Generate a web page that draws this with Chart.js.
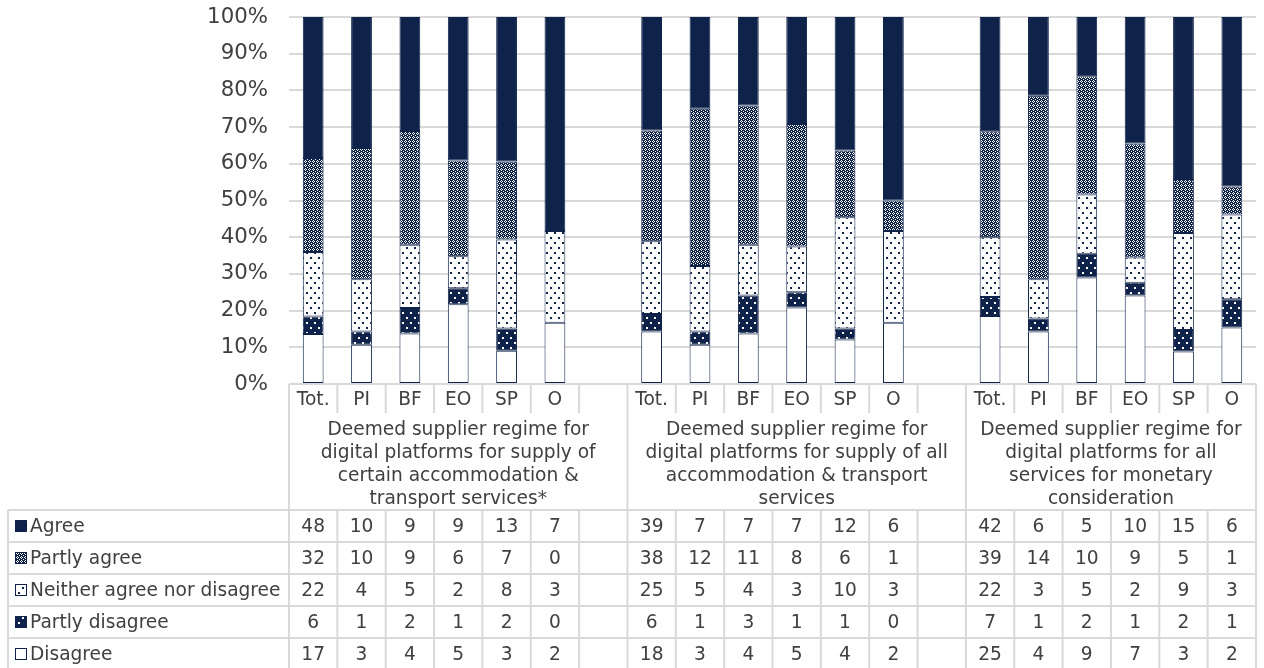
<!DOCTYPE html>
<html>
<head>
<meta charset="utf-8">
<script src="https://cdn.jsdelivr.net/npm/chart.js@4.4.0/dist/chart.umd.min.js"></script>
<style>
  body { margin: 0; background: #fff; }
  #wrap { width: 1264px; height: 668px; }
</style>
</head>
<body>
<div id="wrap"><canvas id="chart" width="1264" height="668"></canvas></div>
<script>
// --- Data (counts of replies) ---
const respondents = ['Tot.', 'PI', 'BF', 'EO', 'SP', 'O'];

const groupTitles = [
	['Deemed supplier regime for', 'digital platforms for supply of', 'certain accommodation &', 'transport services*'],
	['Deemed supplier regime for', 'digital platforms for supply of all', 'accommodation & transport', 'services'],
	['Deemed supplier regime for', 'digital platforms for all', 'services for monetary', 'consideration']
];

const agree          = [48, 10, 9, 9, 13, 7,   39, 7, 7, 7, 12, 6,   42, 6, 5, 10, 15, 6];
const partlyAgree    = [32, 10, 9, 6, 7, 0,    38, 12, 11, 8, 6, 1,  39, 14, 10, 9, 5, 1];
const neither        = [22, 4, 5, 2, 8, 3,     25, 5, 4, 3, 10, 3,   22, 3, 5, 2, 9, 3];
const partlyDisagree = [6, 1, 2, 1, 2, 0,      6, 1, 3, 1, 1, 0,     7, 1, 2, 1, 2, 1];
const disagree       = [17, 3, 4, 5, 3, 2,     18, 3, 4, 5, 4, 2,    25, 4, 9, 7, 3, 2];

const NAVY = '#0f2249';
const GRID = '#d9d9d9';
const TEXT = '#404040';
const FONT = '"DejaVu Sans", Verdana, sans-serif';

// --- Patterns ---
function makePattern(kind) {
	const c = document.createElement('canvas');
	const g = c.getContext('2d');
	if (kind === 'diamond') {
		// navy with a white diamond lattice
		c.width = 4; c.height = 4;
		g.fillStyle = NAVY; g.fillRect(0, 0, 4, 4);
		g.fillStyle = '#fff';
		[[1, 0], [0, 1], [2, 1], [1, 2], [3, 3]].forEach(p => g.fillRect(p[0], p[1], 1, 1));
	} else {
		c.width = 8; c.height = 10;
		const bg = kind === 'dotsLight' ? '#fff' : NAVY;
		const fg = kind === 'dotsLight' ? NAVY : '#fff';
		g.fillStyle = bg; g.fillRect(0, 0, 8, 10);
		g.fillStyle = fg;
		g.fillRect(2, 2, 2, 2);
		g.fillRect(6, 7, 2, 2);
	}
	return g.createPattern(c, 'repeat');
}

// Build the 20 columns: 6 per group plus an empty gap after groups 1 and 2
const columnLabels = [];
const columnIndex = []; // index into the count arrays, or -1 for gaps
for (let g = 0; g < 3; g++) {
	respondents.forEach((r, i) => { columnLabels.push(r); columnIndex.push(g * 6 + i); });
	if (g < 2) { columnLabels.push(''); columnIndex.push(-1); }
}

const totals = agree.map((v, i) => v + partlyAgree[i] + neither[i] + partlyDisagree[i] + disagree[i]);
const toPct = arr => columnIndex.map(k => k < 0 ? null : arr[k] / totals[k] * 100);

// Bottom to top
const series = [
	{ label: 'Disagree', counts: disagree, fill: '#ffffff' },
	{ label: 'Partly disagree', counts: partlyDisagree, fill: makePattern('dotsDark') },
	{ label: 'Neither agree nor disagree', counts: neither, fill: makePattern('dotsLight') },
	{ label: 'Partly agree', counts: partlyAgree, fill: makePattern('diamond') },
	{ label: 'Agree', counts: agree, fill: NAVY }
];

// --- Data table drawn under the plot ---
const tablePlugin = {
	id: 'dataTable',
	afterDraw(chart) {
		const ctx = chart.ctx;
		const xs = chart.scales.x;
		const n = columnLabels.length;
		const colW = (xs.right - xs.left) / n;
		const edge = i => xs.left + i * colW;
		const left = 8, right = xs.right, top = chart.chartArea.bottom;
		const rowTop = 510, rowH = 32;
		const rows = series.slice().reverse();

		ctx.save();
		ctx.strokeStyle = GRID;
		ctx.lineWidth = 2;
		const line = (x1, y1, x2, y2) => { ctx.beginPath(); ctx.moveTo(x1, y1); ctx.lineTo(x2, y2); ctx.stroke(); };

		// horizontal lines
		line(xs.left, top, right, top);
		for (let r = 0; r < rows.length; r++) line(left, rowTop + r * rowH, right, rowTop + r * rowH);
		// vertical lines
		line(left, rowTop, left, 668);
		line(xs.left, top, xs.left, 668);
		for (let i = 1; i <= n; i++) {
			const x = edge(i);
			const groupEdge = i === 7 || i === 14 || i === n;
			if (groupEdge) line(x, top, x, 668);
			else {
				line(x, top, x, top + 29);
				line(x, rowTop, x, 668);
			}
		}

		ctx.fillStyle = TEXT;
		ctx.font = '18.6px ' + FONT;
		ctx.textAlign = 'center';
		ctx.textBaseline = 'middle';

		// category labels
		columnLabels.forEach((lab, i) => ctx.fillText(lab, edge(i) + colW / 2, top + 16));

		// group titles
		const spans = [[0, 7], [7, 14], [14, 20]];
		groupTitles.forEach((lines, g) => {
			const cx = (edge(spans[g][0]) + edge(spans[g][1])) / 2;
			lines.forEach((t, j) => ctx.fillText(t, cx, 430 + j * 23));
		});

		// rows
		rows.forEach((s, r) => {
			const cy = rowTop + r * rowH + rowH / 2;
			// legend key
			ctx.fillStyle = s.fill;
			ctx.fillRect(15, cy - 6, 12, 12);
			ctx.strokeStyle = NAVY;
			ctx.lineWidth = 1;
			ctx.strokeRect(15.5, cy - 5.5, 11, 11);
			ctx.fillStyle = TEXT;
			ctx.textAlign = 'left';
			ctx.fillText(s.label, 30, cy + 1);
			ctx.textAlign = 'center';
			columnIndex.forEach((k, i) => {
				if (k >= 0) ctx.fillText(String(s.counts[k]), edge(i) + colW / 2, cy + 1);
			});
		});
		ctx.restore();
	}
};

new Chart(document.getElementById('chart'), {
	type: 'bar',
	data: {
		labels: columnLabels,
		datasets: series.map(s => ({
			label: s.label,
			data: toPct(s.counts),
			backgroundColor: s.fill,
			borderColor: NAVY,
			borderWidth: c => (c.raw > 0 ? 1 : 0),
			borderSkipped: false,
			barPercentage: 0.43,
			categoryPercentage: 1
		}))
	},
	options: {
		responsive: false,
		animation: false,
		layout: { padding: { left: 0, right: 8, top: 17, bottom: 284 } },
		scales: {
			x: { stacked: true, display: false },
			y: {
				stacked: true,
				min: 0, max: 100,
				afterFit: s => { s.width = 289; s.paddingTop = 0; s.paddingBottom = 0; },
				border: { display: false },
				grid: { color: GRID, lineWidth: 2, drawTicks: false },
				ticks: {
					stepSize: 10,
					padding: 21,
					color: TEXT,
					font: { family: FONT, size: 21.3 },
					callback: v => v + '%'
				}
			}
		},
		plugins: { legend: { display: false }, tooltip: { enabled: false } }
	},
	plugins: [tablePlugin]
});
</script>
</body>
</html>
